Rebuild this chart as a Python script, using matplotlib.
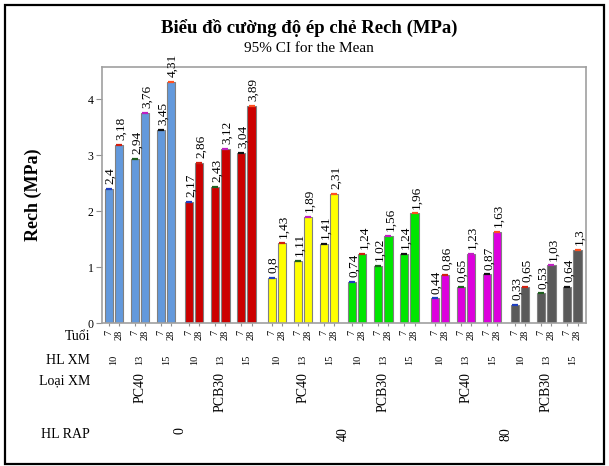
import matplotlib
matplotlib.use("Agg")
import matplotlib.pyplot as plt
from matplotlib.transforms import blended_transform_factory
from matplotlib.patches import Rectangle

plt.rcParams['font.family'] = ['Liberation Serif', 'DejaVu Serif']

# Category levels (outer to inner)
hl_rap = ['0', '40', '80']
loai_xm = ['PC40', 'PCB30']
hl_xm = ['10', '13', '15']
tuoi = ['7', '28']

# Mean splitting strength Rech (MPa), ordered HL RAP > Loại XM > HL XM > Tuổi
rech_0_pc40 = [2.4, 3.18, 2.94, 3.76, 3.45, 4.31]
rech_0_pcb30 = [2.17, 2.86, 2.43, 3.12, 3.04, 3.89]
rech_40_pc40 = [0.8, 1.43, 1.11, 1.89, 1.41, 2.31]
rech_40_pcb30 = [0.74, 1.24, 1.02, 1.56, 1.24, 1.96]
rech_80_pc40 = [0.44, 0.86, 0.65, 1.23, 0.87, 1.63]
rech_80_pcb30 = [0.33, 0.65, 0.53, 1.03, 0.64, 1.3]

groups = [rech_0_pc40, rech_0_pcb30, rech_40_pc40,
          rech_40_pcb30, rech_80_pc40, rech_80_pcb30]
group_colors = ['#6399dc', '#cc0000', '#ffff00', '#00e600', '#dd00dd', '#5a5a5a']
cap_colors = ['#1f3fbf', '#d02010', '#1f5f1f', '#c020c0', '#111111', '#ff5020']

W, H = 609, 466
fig = plt.figure(figsize=(W / 100, H / 100), dpi=100)
ax = fig.add_axes([102 / W, 1 - 323 / H, (586 - 102) / W, (323 - 67) / H])

# Bar positions: unit step inside a pair, wider gaps between nested groups
pos = []
x = 0.0
for r in range(len(hl_rap)):
    for l in range(len(loai_xm)):
        for h in range(len(hl_xm)):
            for t in range(len(tuoi)):
                pos.append(x)
                x += 1.0
            x += 0.55
        x += 0.2
    x += 0.25

values = [v for g in groups for v in g]
colors = [group_colors[i // 6] for i in range(len(values))]

ax.bar(pos, values, width=0.8, color=colors, edgecolor='#808080',
       linewidth=0.8, zorder=2)
for i, (p, v) in enumerate(zip(pos, values)):
    ax.plot([p], [v], marker='_', markersize=5, mew=1.6,
            color=cap_colors[i % 6], zorder=3)
    ax.annotate(f"{v:g}".replace('.', ','), (p, v), xytext=(1.2, 3.5),
                textcoords='offset points', rotation=90, ha='center',
                va='bottom', fontsize=9.5, annotation_clip=False)

ax.set_xlim(pos[0] - 0.68, pos[-1] + 0.83)
ax.set_ylim(0, 4.58)
ax.set_yticks([0, 1, 2, 3, 4])
ax.set_yticklabels(['0', '1', '2', '3', '4'], fontsize=8.5)
ax.set_xticks(pos)
ax.set_xticklabels([])
ax.tick_params(axis='y', length=4, width=0.8, color='#909090', pad=2)
ax.tick_params(axis='x', length=2.5, width=0.8, color='#909090')
for s in ax.spines.values():
    s.set_color('#a0a0a0')
    s.set_linewidth(1.2)

ax.set_ylabel('Rech (MPa)', fontsize=13, fontweight='bold', labelpad=33)

# Nested category labels below the axis
tr = blended_transform_factory(ax.transData, fig.transFigure)
def fy(py):
    return 1 - py / H

for i, p in enumerate(pos):
    ax.text(p, fy(330), tuoi[i % 2], transform=tr, rotation=90,
            ha='center', va='top', fontsize=7.5)
for k in range(18):
    cx = (pos[2 * k] + pos[2 * k + 1]) / 2
    ax.text(cx, fy(355), hl_xm[k % 3], transform=tr, rotation=90,
            ha='center', va='top', fontsize=7.5)
for k in range(6):
    cx = (pos[6 * k] + pos[6 * k + 5]) / 2
    ax.text(cx, fy(372), loai_xm[k % 2], transform=tr, rotation=90,
            ha='center', va='top', fontsize=10)
for k in range(3):
    cx = (pos[12 * k] + pos[12 * k + 11]) / 2
    ax.text(cx, fy(427), hl_rap[k], transform=tr, rotation=90,
            ha='center', va='top', fontsize=10)

row_labels = [('Tuổi', 337), ('HL XM', 361), ('Loại XM', 381), ('HL RAP', 435)]
for txt, py in row_labels:
    fig.text(90 / W, fy(py), txt, ha='right', va='center', fontsize=10)

fig.text(309 / W, fy(28), 'Biểu đồ cường độ ép chẻ Rech (MPa)', ha='center',
         va='center', fontsize=13.5, fontweight='bold')
fig.text(309 / W, fy(48), '95% CI for the Mean', ha='center', va='center',
         fontsize=11)

# Outer frame around the whole figure
fig.patches.append(Rectangle((5 / W, fy(464)), (604 - 5) / W, (464 - 5) / H,
                             transform=fig.transFigure, fill=False,
                             edgecolor='black', linewidth=1.6))

fig.savefig('out.png', dpi=100)
